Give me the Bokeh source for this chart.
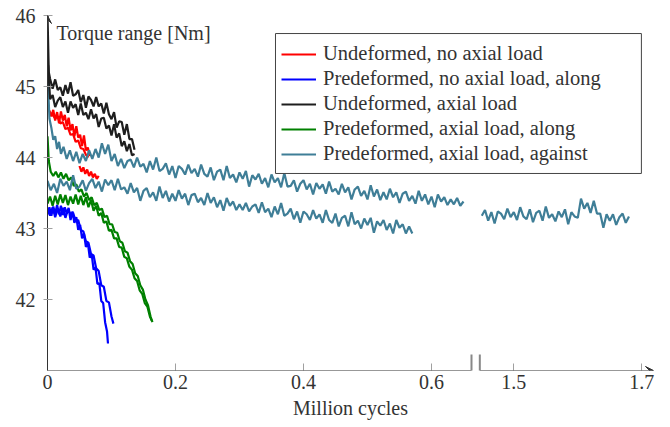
from bokeh.plotting import figure
from bokeh.models import Range1d, FixedTicker, Label, Legend, LegendItem, Arrow, VeeHead, BoxAnnotation
from bokeh.embed import file_html
from bokeh.resources import INLINE

# ---------------- data (x: million cycles, y: torque range in Nm) ----------------
red_a_x = [0.003, 0.006, 0.009, 0.012, 0.015, 0.018, 0.021, 0.024, 0.027, 0.03, 0.033,
           0.036, 0.039, 0.042, 0.045, 0.048, 0.051, 0.054, 0.057, 0.06, 0.063, 0.066]
red_a_y = [44.66, 44.58, 44.67, 44.52, 44.64, 44.48, 44.65, 44.52, 44.60, 44.44, 44.56,
           44.38, 44.47, 44.30, 44.44, 44.28, 44.32, 44.16, 44.31, 44.10, 44.14, 44.02]
red_b_x = [0.05, 0.053, 0.056, 0.059, 0.062, 0.065, 0.068, 0.071, 0.074, 0.077, 0.08]
red_b_y = [43.88, 43.80, 43.86, 43.77, 43.83, 43.74, 43.80, 43.72, 43.77, 43.70, 43.74]
red_c_x = [0.004, 0.008, 0.012, 0.016, 0.02, 0.024, 0.028, 0.032, 0.036, 0.04, 0.044,
           0.048, 0.052, 0.056, 0.06, 0.064]
red_c_y = [44.62, 44.60, 44.55, 44.58, 44.48, 44.50, 44.40, 44.42, 44.32, 44.33, 44.22,
           44.24, 44.13, 44.12, 44.04, 44.00]

blue_a_x = [0, 0.003, 0.006, 0.009, 0.012, 0.015, 0.018, 0.021, 0.024, 0.027, 0.03, 0.033,
            0.036, 0.039, 0.042, 0.045, 0.048, 0.051, 0.054, 0.057, 0.06, 0.063, 0.066,
            0.069, 0.072, 0.075, 0.078, 0.081, 0.084, 0.087, 0.09, 0.093, 0.0945]
blue_a_y = [43.20, 43.30, 43.18, 43.31, 43.21, 43.33, 43.20, 43.32, 43.19, 43.30, 43.21, 43.29,
            43.12, 43.24, 43.08, 43.16, 42.98, 43.05, 42.86, 42.93, 42.74, 42.80, 42.59,
            42.64, 42.42, 42.45, 42.22, 42.23, 41.98, 41.95, 41.68, 41.55, 41.38]
blue_b_x = [0, 0.004, 0.008, 0.012, 0.016, 0.02, 0.024, 0.028, 0.032, 0.036, 0.04, 0.044,
            0.048, 0.052, 0.056, 0.06, 0.064, 0.068, 0.072, 0.076, 0.08, 0.084, 0.088,
            0.092, 0.096, 0.1, 0.103]
blue_b_y = [43.28, 43.18, 43.30, 43.16, 43.28, 43.17, 43.29, 43.15, 43.27, 43.20, 43.22, 43.10,
            43.12, 42.98, 42.96, 42.82, 42.80, 42.64, 42.62, 42.44, 42.40, 42.20, 42.18,
            41.98, 41.96, 41.76, 41.66]

black_a_x = [0, 0.002, 0.004, 0.008, 0.012, 0.016, 0.02, 0.024, 0.028, 0.032, 0.036, 0.04,
             0.044, 0.048, 0.052, 0.056, 0.06, 0.064, 0.068, 0.072, 0.076, 0.08, 0.084,
             0.088, 0.092, 0.096, 0.1, 0.104, 0.108, 0.112, 0.116, 0.12, 0.124, 0.128,
             0.132, 0.136]
black_a_y = [46.0, 45.2, 45.11, 44.97, 45.10, 44.95, 44.99, 44.87, 45.02, 44.90, 45.06, 44.87,
             44.89, 44.95, 44.78, 44.88, 44.70, 44.86, 44.81, 44.72, 44.85, 44.72, 44.76,
             44.62, 44.77, 44.61, 44.54, 44.64, 44.42, 44.51, 44.50, 44.32, 44.47, 44.26,
             44.26, 44.11]
black_b_x = [0.001, 0.004, 0.008, 0.012, 0.016, 0.02, 0.024, 0.028, 0.032, 0.036, 0.04,
             0.044, 0.048, 0.052, 0.056, 0.06, 0.064, 0.068, 0.072, 0.076, 0.08, 0.084,
             0.088, 0.092, 0.096, 0.1, 0.104, 0.108, 0.112, 0.116, 0.12, 0.124, 0.128,
             0.132, 0.136]
black_b_y = [45.3, 44.82, 44.88, 44.71, 44.80, 44.85, 44.71, 44.79, 44.63, 44.79, 44.70,
             44.75, 44.60, 44.76, 44.60, 44.63, 44.54, 44.68, 44.55, 44.61, 44.43, 44.55,
             44.56, 44.41, 44.45, 44.31, 44.47, 44.28, 44.34, 44.16, 44.23, 44.09, 44.19,
             44.03, 44.05]

green_a_x = [0, 0.002, 0.005, 0.009, 0.013, 0.017, 0.021, 0.025, 0.029, 0.033, 0.037, 0.041,
             0.045, 0.049, 0.053, 0.057, 0.061, 0.065, 0.069, 0.073, 0.077, 0.081, 0.085,
             0.089, 0.093, 0.097, 0.101, 0.105, 0.109, 0.113, 0.117, 0.121, 0.125, 0.129,
             0.133, 0.137, 0.141, 0.145, 0.149, 0.153, 0.157, 0.161, 0.164]
green_a_y = [44.3, 43.95, 43.8, 43.74, 43.80, 43.72, 43.79, 43.70, 43.77, 43.68, 43.72, 43.6,
             43.62, 43.52, 43.55, 43.45, 43.5, 43.4, 43.44, 43.33, 43.36, 43.26, 43.28,
             43.16, 43.18, 43.06, 43.06, 42.95, 42.94, 42.82, 42.8, 42.68, 42.66, 42.54,
             42.5, 42.37, 42.33, 42.2, 42.14, 42.0, 41.92, 41.76, 41.68]
green_b_x = [0, 0.004, 0.008, 0.012, 0.016, 0.02, 0.024, 0.028, 0.032, 0.036, 0.04, 0.044,
             0.048, 0.052, 0.056, 0.06, 0.064, 0.068, 0.072, 0.076, 0.08, 0.084, 0.088,
             0.092, 0.096, 0.1, 0.104, 0.108, 0.112, 0.116, 0.12, 0.124, 0.128, 0.132,
             0.136, 0.14, 0.144, 0.148, 0.152, 0.156, 0.16, 0.163]
green_b_y = [43.35, 43.45, 43.32, 43.46, 43.34, 43.48, 43.36, 43.47, 43.33, 43.45, 43.35, 43.48,
             43.34, 43.46, 43.33, 43.44, 43.3, 43.4, 43.25, 43.32, 43.18, 43.22, 43.08,
             43.1, 42.97, 42.98, 42.86, 42.86, 42.74, 42.73, 42.6, 42.58, 42.46, 42.42,
             42.3, 42.26, 42.13, 42.08, 41.95, 41.9, 41.76, 41.7]

teal_a_x = [0, 0.001, 0.003, 0.006, 0.009, 0.012, 0.015, 0.018, 0.021, 0.025, 0.03, 0.035,
            0.04, 0.045, 0.05, 0.055, 0.06, 0.065, 0.07, 0.075, 0.08, 0.085, 0.09, 0.095,
            0.1, 0.105, 0.11, 0.115, 0.12, 0.125,
            0.13, 0.135, 0.14, 0.145, 0.15, 0.155, 0.16, 0.165, 0.17, 0.175,
            0.18, 0.185, 0.19, 0.195, 0.2, 0.205, 0.21, 0.215, 0.22, 0.225,
            0.23, 0.235, 0.24, 0.245, 0.25, 0.255, 0.26, 0.265, 0.27, 0.275,
            0.28, 0.285, 0.29, 0.295, 0.3, 0.305, 0.31, 0.315, 0.32, 0.325,
            0.33, 0.335, 0.34, 0.345, 0.35, 0.355, 0.36, 0.365, 0.37, 0.375,
            0.38, 0.385, 0.39, 0.395, 0.4, 0.405, 0.41, 0.415, 0.42, 0.425,
            0.43, 0.435, 0.44, 0.445, 0.45, 0.455, 0.46, 0.465, 0.47, 0.475,
            0.48, 0.485, 0.49, 0.495, 0.5, 0.505, 0.51, 0.515, 0.52, 0.525,
            0.53, 0.535, 0.54, 0.545, 0.55, 0.555, 0.56, 0.565, 0.57, 0.575,
            0.58, 0.585, 0.59, 0.595, 0.6, 0.605, 0.61, 0.615, 0.62, 0.625,
            0.63, 0.635, 0.64, 0.645, 0.65]
teal_a_y = [45.65, 45.0, 44.55, 44.42, 44.25, 44.3, 44.12, 44.22, 44.05, 44.15, 43.98, 44.1,
            43.95, 44.08, 43.92, 44.05, 43.95, 44.1, 43.98, 44.12, 44.0, 44.2, 44.05, 44.18,
            43.95, 44.05, 43.88, 43.98, 43.85, 43.95,
            43.97, 43.86, 44.00, 43.87, 43.91, 43.79, 43.95, 43.83, 44.00, 43.81,
            43.84, 43.92, 43.76, 43.88, 43.71, 43.88, 43.84, 43.76, 43.90, 43.78,
            43.84, 43.73, 43.90, 43.77, 43.73, 43.86, 43.68, 43.80, 43.83, 43.68,
            43.88, 43.71, 43.76, 43.65, 43.79, 43.70, 43.81, 43.59, 43.75, 43.69,
            43.77, 43.63, 43.71, 43.58, 43.76, 43.65, 43.71, 43.58, 43.78, 43.59,
            43.60, 43.68, 43.52, 43.63, 43.68, 43.55, 43.63, 43.48, 43.64, 43.56,
            43.62, 43.49, 43.66, 43.52, 43.56, 43.48, 43.63, 43.51, 43.58, 43.41,
            43.55, 43.59, 43.46, 43.53, 43.41, 43.61, 43.45, 43.55, 43.40, 43.51,
            43.41, 43.56, 43.44, 43.51, 43.36, 43.49, 43.52, 43.39, 43.46, 43.35,
            43.53, 43.39, 43.48, 43.34, 43.45, 43.30, 43.48, 43.38, 43.44, 43.33,
            43.41, 43.34, 43.43, 43.32, 43.38]
teal_b_x = [0, 0.005, 0.01, 0.015, 0.02, 0.025, 0.03, 0.035, 0.04, 0.045,
            0.05, 0.055, 0.06, 0.065, 0.07, 0.075, 0.08, 0.085, 0.09, 0.095,
            0.1, 0.105, 0.11, 0.115, 0.12, 0.125, 0.13, 0.135, 0.14, 0.145,
            0.15, 0.155, 0.16, 0.165, 0.17, 0.175, 0.18, 0.185, 0.19, 0.195,
            0.2, 0.205, 0.21, 0.215, 0.22, 0.225, 0.23, 0.235, 0.24, 0.245,
            0.25, 0.255, 0.26, 0.265, 0.27, 0.275, 0.28, 0.285, 0.29, 0.295,
            0.3, 0.305, 0.31, 0.315, 0.32, 0.325, 0.33, 0.335, 0.34, 0.345,
            0.35, 0.355, 0.36, 0.365, 0.37, 0.375, 0.38, 0.385, 0.39, 0.395,
            0.4, 0.405, 0.41, 0.415, 0.42, 0.425, 0.43, 0.435, 0.44, 0.445,
            0.45, 0.455, 0.46, 0.465, 0.47, 0.475, 0.48, 0.485, 0.49, 0.495,
            0.5, 0.505, 0.51, 0.515, 0.52, 0.525, 0.53, 0.535, 0.54, 0.545,
            0.55, 0.555, 0.56, 0.565, 0.57]
teal_b_y = [43.67, 43.54, 43.63, 43.50, 43.70, 43.60, 43.66, 43.54, 43.75, 43.56,
            43.59, 43.68, 43.53, 43.64, 43.70, 43.57, 43.66, 43.52, 43.69, 43.61,
            43.68, 43.54, 43.70, 43.55, 43.58, 43.49, 43.64, 43.51, 43.57, 43.39,
            43.53, 43.57, 43.44, 43.51, 43.39, 43.59, 43.43, 43.53, 43.38, 43.49,
            43.39, 43.54, 43.42, 43.49, 43.33, 43.47, 43.49, 43.37, 43.43, 43.33,
            43.50, 43.36, 43.44, 43.30, 43.40, 43.25, 43.43, 43.32, 43.38, 43.26,
            43.34, 43.26, 43.36, 43.24, 43.31, 43.34, 43.22, 43.37, 43.23, 43.28,
            43.16, 43.31, 43.20, 43.36, 43.18, 43.21, 43.28, 43.13, 43.24, 43.08,
            43.24, 43.20, 43.12, 43.26, 43.14, 43.20, 43.08, 43.26, 43.12, 43.08,
            43.21, 43.03, 43.15, 43.18, 43.03, 43.23, 43.06, 43.11, 43.00, 43.14,
            43.05, 43.15, 42.94, 43.10, 43.04, 43.12, 42.98, 43.07, 42.93, 43.12,
            43.01, 43.06, 42.93, 43.03, 42.93]
teal_c_x = [1.45, 1.455, 1.46, 1.465, 1.47, 1.475, 1.48, 1.485, 1.49, 1.495,
            1.5, 1.505, 1.51, 1.515, 1.52, 1.525, 1.53, 1.535, 1.54, 1.545,
            1.55, 1.555, 1.56, 1.565, 1.57, 1.575, 1.58, 1.585, 1.59, 1.595,
            1.6, 1.605, 1.61, 1.615, 1.62, 1.625, 1.63, 1.635, 1.64, 1.645,
            1.65, 1.655, 1.66, 1.665, 1.67, 1.675, 1.68]
teal_c_y = [43.18, 43.26, 43.11, 43.23, 43.07, 43.24, 43.21, 43.13, 43.28, 43.16,
            43.23, 43.12, 43.30, 43.17, 43.13, 43.27, 43.09, 43.22, 43.25, 43.11,
            43.31, 43.15, 43.20, 43.10, 43.24, 43.16, 43.27, 43.06, 43.23, 43.17,
            43.15, 43.42, 43.28, 43.36, 43.22, 43.39, 43.21, 43.21, 43.01, 43.20,
            43.11, 43.20, 43.05, 43.16, 43.21, 43.08, 43.17]

series_labels = ["Undeformed, no axial load",
                 "Predeformed, no axial load, along",
                 "Undeformed, axial load",
                 "Predeformed, axial load, along",
                 "Predeformed, axial load, against"]
x_tick_values = [0.0, 0.2, 0.4, 0.6, 1.5, 1.7]
x_tick_labels = ["0", "0.2", "0.4", "0.6", "1.5", "1.7"]
y_tick_values = [42, 43, 44, 45, 46]

# ---------------- styling / layout ----------------
FONT = "Liberation Serif"
TEXT = "#333333"
AXIS = "#333333"
TICK = "#a0a0a0"
C_RED, C_BLUE, C_BLACK, C_GREEN, C_TEAL = "#ff0000", "#0000ff", "#1e1e1e", "#008000", "#3f7e97"

X_SHIFT = 0.7714          # horizontal compression of the axis break
BREAK_L, BREAK_R = 0.6625, 0.6755
X_END = 0.9469


def shifted(xs):
    return [round(v - X_SHIFT, 6) if v > 1.0 else v for v in xs]


p = figure(width=662, height=426, title=None,
           x_range=Range1d(0, X_END), y_range=Range1d(41, 46),
           output_backend="svg", toolbar_location=None,
           min_border_left=47, min_border_right=9, min_border_top=15, min_border_bottom=56)
p.outline_line_color = None
p.grid.visible = False
p.background_fill_color = "white"
p.border_fill_color = "white"

LW = 2.2
r_red = p.line(red_a_x, red_a_y, color=C_RED, line_width=LW)
p.line(red_c_x, red_c_y, color=C_RED, line_width=LW)
p.line(red_b_x, red_b_y, color=C_RED, line_width=LW)
r_blue = p.line(blue_a_x, blue_a_y, color=C_BLUE, line_width=LW)
p.line(blue_b_x, blue_b_y, color=C_BLUE, line_width=LW)
r_green = p.line(green_a_x, green_a_y, color=C_GREEN, line_width=LW)
p.line(green_b_x, green_b_y, color=C_GREEN, line_width=LW)
r_teal = p.line(teal_a_x, teal_a_y, color=C_TEAL, line_width=LW)
p.line(teal_b_x, teal_b_y, color=C_TEAL, line_width=LW)
p.line(shifted(teal_c_x), teal_c_y, color=C_TEAL, line_width=LW)
r_black = p.line(black_a_x, black_a_y, color=C_BLACK, line_width=LW)
p.line(black_b_x, black_b_y, color=C_BLACK, line_width=LW)

# axes
disp_ticks = shifted(x_tick_values)
p.xaxis.ticker = FixedTicker(ticks=disp_ticks)
p.xaxis.major_label_overrides = {t: s for t, s in zip(disp_ticks, x_tick_labels)}
p.yaxis.ticker = FixedTicker(ticks=y_tick_values)
for ax in (p.xaxis, p.yaxis):
    ax.major_label_text_font = FONT
    ax.major_label_text_font_size = "20px"
    ax.major_label_text_color = TEXT
    ax.major_tick_line_color = TICK
    ax.minor_tick_line_color = None
    ax.axis_line_color = AXIS
p.xaxis.axis_line_color = None
p.xaxis.major_tick_in = 7
p.xaxis.major_tick_out = 0
p.xaxis.major_label_standoff = 4
p.xaxis.axis_label = "Million cycles"
p.xaxis.axis_label_text_font = FONT
p.xaxis.axis_label_text_font_size = "20px"
p.xaxis.axis_label_text_font_style = "normal"
p.xaxis.axis_label_text_color = TEXT
p.xaxis.axis_label_standoff = 5
p.yaxis.major_tick_in = 5
p.yaxis.major_tick_out = 4
p.yaxis.major_label_standoff = 8

# broken x axis line with arrow, y arrow head, break marks
p.add_layout(Arrow(start=None, end=None, x_start=0, y_start=41, x_end=BREAK_L, y_end=41,
                   line_color=AXIS, line_width=1))
p.add_layout(Arrow(start=None, end=VeeHead(size=8, line_color=AXIS, fill_color=AXIS, line_width=1),
                   x_start=BREAK_R, y_start=41, x_end=X_END, y_end=41,
                   line_color=AXIS, line_width=1))
p.add_layout(Arrow(start=None, end=VeeHead(size=8, line_color=AXIS, fill_color=AXIS, line_width=1),
                   x_start=0, y_start=45.5, x_end=0, y_end=46,
                   line_color=AXIS, line_width=1))
for bx in (BREAK_L, BREAK_R):
    p.add_layout(Arrow(start=None, end=None, x_start=bx, y_start=40.775, x_end=bx, y_end=41.225,
                       line_color="#888888", line_width=2))

p.add_layout(Label(x=0.014, y=45.76, text="Torque range [Nm]", text_font=FONT,
                   text_font_size="20px", text_color=TEXT, text_baseline="middle",
                   text_align="left"))

# legend frame
p.add_layout(BoxAnnotation(left=0.35625, right=0.928, top=45.746, bottom=43.775,
                           fill_color="white", fill_alpha=1.0,
                           line_color="#444444", line_width=1, line_alpha=1.0))
legend = Legend(items=[LegendItem(label=series_labels[0], renderers=[r_red]),
                       LegendItem(label=series_labels[1], renderers=[r_blue]),
                       LegendItem(label=series_labels[2], renderers=[r_black]),
                       LegendItem(label=series_labels[3], renderers=[r_green]),
                       LegendItem(label=series_labels[4], renderers=[r_teal])],
                location=(234, 205), margin=0, padding=7, spacing=2,
                glyph_width=35, glyph_height=20, label_height=20,
                label_standoff=7, label_text_font=FONT, label_text_font_size="20.5px",
                label_text_color=TEXT, border_line_color=None,
                background_fill_alpha=0.0)
p.add_layout(legend)

open("out.html", "w").write(file_html(p, INLINE))
